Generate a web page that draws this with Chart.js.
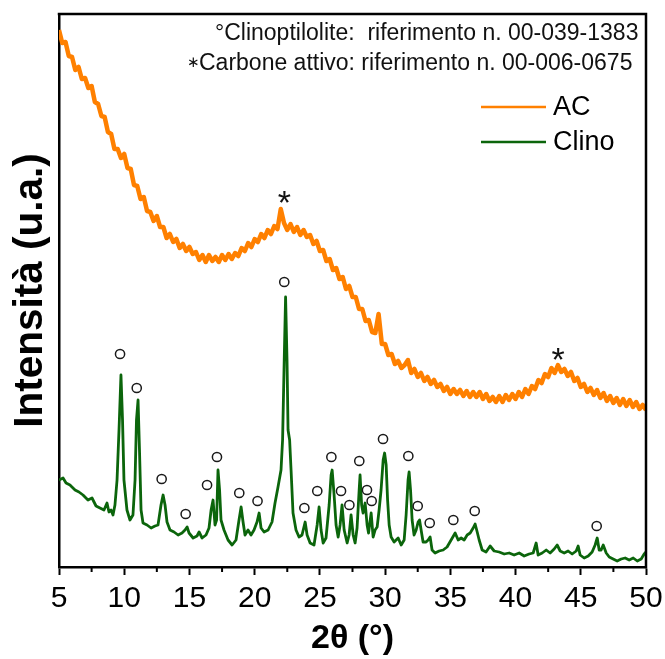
<!DOCTYPE html>
<html>
<head>
<meta charset="utf-8">
<script src="https://cdn.jsdelivr.net/npm/chart.js@4.4.1/dist/chart.umd.min.js"></script>
<style>
  html, body { margin: 0; padding: 0; background: #fff; }
  #wrap { width: 665px; height: 659px; position: relative; }
</style>
</head>
<body>
<div id="wrap"><canvas id="xrdChart"></canvas></div>
<script>
// AC (carbone attivo) pattern, every 0.25°
const acAngles = [
  5, 5.25, 5.5, 5.75, 6, 6.25, 6.5, 6.75, 7, 7.25,
  7.5, 7.75, 8, 8.25, 8.5, 8.75, 9, 9.25, 9.5, 9.75,
  10, 10.25, 10.5, 10.75, 11, 11.25, 11.5, 11.75, 12, 12.25,
  12.5, 12.75, 13, 13.25, 13.5, 13.75, 14, 14.25, 14.5, 14.75,
  15, 15.25, 15.5, 15.75, 16, 16.25, 16.5, 16.75, 17, 17.25,
  17.5, 17.75, 18, 18.25, 18.5, 18.75, 19, 19.25, 19.5, 19.75,
  20, 20.25, 20.5, 20.75, 21, 21.25, 21.5, 21.75, 22, 22.25,
  22.5, 22.75, 23, 23.25, 23.5, 23.75, 24, 24.25, 24.5, 24.75,
  25, 25.25, 25.5, 25.75, 26, 26.25, 26.5, 26.75, 27, 27.25,
  27.5, 27.75, 28, 28.25, 28.5, 28.75, 29, 29.25, 29.5, 29.75,
  30, 30.25, 30.5, 30.75, 31, 31.25, 31.5, 31.75, 32, 32.25,
  32.5, 32.75, 33, 33.25, 33.5, 33.75, 34, 34.25, 34.5, 34.75,
  35, 35.25, 35.5, 35.75, 36, 36.25, 36.5, 36.75, 37, 37.25,
  37.5, 37.75, 38, 38.25, 38.5, 38.75, 39, 39.25, 39.5, 39.75,
  40, 40.25, 40.5, 40.75, 41, 41.25, 41.5, 41.75, 42, 42.25,
  42.5, 42.75, 43, 43.25, 43.5, 43.75, 44, 44.25, 44.5, 44.75,
  45, 45.25, 45.5, 45.75, 46, 46.25, 46.5, 46.75, 47, 47.25,
  47.5, 47.75, 48, 48.25, 48.5, 48.75, 49, 49.25, 49.5, 49.75,
  50,
];
const acIntensity = [
  537, 524, 525, 511, 510, 497, 500, 488, 489, 479,
  481, 465, 463, 451, 450, 435, 433, 418, 418, 409,
  413, 399, 398, 382, 381, 368, 370, 356, 355, 346,
  351, 340, 340, 329, 333, 325, 328, 319, 323, 316,
  320, 313, 315, 307, 312, 305, 312, 306, 310, 305,
  312, 307, 313, 308, 314, 311, 319, 316, 324, 320,
  328, 325, 333, 329, 337, 333, 341, 338, 358, 344,
  337, 343, 335, 340, 332, 337, 330, 332, 323, 326,
  316, 317, 306, 308, 297, 299, 288, 290, 278, 281,
  270, 270, 258, 258, 246, 247, 235, 234, 253, 223,
  223, 212, 213, 203, 206, 199, 202, 207, 194, 198,
  190, 194, 186, 190, 183, 187, 180, 183, 176, 180,
  173, 178, 173, 177, 171, 176, 170, 175, 170, 175,
  168, 173, 166, 170, 165, 171, 165, 172, 167, 173,
  168, 175, 170, 178, 173, 181, 178, 187, 184, 193,
  190, 199, 194, 202, 195, 198, 191, 195, 186, 189,
  180, 183, 175, 179, 172, 177, 169, 174, 166, 171,
  164, 169, 162, 168, 161, 167, 160, 165, 158, 162,
  157,
];

// Clinoptilolite pattern, denser where the reflections are
const clinoAngles = [
  5.0, 5.31, 5.54, 5.84, 6.23, 6.53, 6.84, 7.22, 7.53, 7.84,
  8.14, 8.45, 8.68, 8.83, 8.99, 9.14, 9.29, 9.45, 9.6, 9.75,
  9.87, 9.98, 10.21, 10.44, 10.67, 10.83, 10.94, 11.06, 11.17, 11.29,
  11.44, 11.75, 12.06, 12.36, 12.59, 12.82, 12.98, 13.13, 13.28, 13.51,
  13.82, 14.13, 14.43, 14.66, 14.82, 14.97, 15.28, 15.58, 15.74, 15.97,
  16.27, 16.5, 16.66, 16.81, 16.96, 17.08, 17.19, 17.31, 17.42, 17.65,
  17.96, 18.27, 18.57, 18.8, 18.96, 19.11, 19.26, 19.49, 19.72, 19.95,
  20.18, 20.34, 20.49, 20.72, 21.03, 21.33, 21.56, 21.79, 22.02, 22.14,
  22.25, 22.37, 22.48, 22.56, 22.68, 22.79, 22.94, 23.17, 23.4, 23.63,
  23.87, 24.02, 24.25, 24.55, 24.79, 24.94, 25.09, 25.25, 25.47, 25.71,
  25.86, 25.94, 26.09, 26.24, 26.4, 26.55, 26.7, 26.86, 27.09, 27.24,
  27.39, 27.55, 27.7, 27.85, 28.01, 28.08, 28.2, 28.31, 28.47, 28.62,
  28.73, 28.93, 29.08, 29.23, 29.39, 29.54, 29.69, 29.85, 29.96, 30.08,
  30.19, 30.31, 30.46, 30.69, 31.0, 31.23, 31.46, 31.61, 31.76, 31.84,
  31.95, 32.07, 32.22, 32.38, 32.53, 32.64, 32.76, 32.91, 33.14, 33.3,
  33.45, 33.6, 33.83, 34.14, 34.45, 34.75, 35.06, 35.37, 35.6, 35.83,
  36.06, 36.29, 36.52, 36.75, 36.9, 37.06, 37.21, 37.44, 37.74, 38.05,
  38.36, 38.74, 39.13, 39.51, 39.89, 40.28, 40.66, 41.04, 41.35, 41.58,
  41.73, 42.04, 42.35, 42.65, 42.96, 43.19, 43.42, 43.73, 44.03, 44.34,
  44.65, 44.8, 44.95, 45.26, 45.57, 45.87, 46.1, 46.26, 46.41, 46.56,
  46.72, 46.95, 47.18, 47.48, 47.79, 48.1, 48.4, 48.71, 49.02, 49.33,
  49.63, 49.86, 50.0,
];
const clinoIntensity = [
  87, 89, 84, 82, 77, 75, 72, 67, 69, 61,
  59, 57, 64, 55, 57, 52, 62, 87, 137, 192,
  147, 87, 57, 47, 52, 87, 147, 167, 117, 57,
  44, 42, 39, 41, 42, 62, 72, 62, 45, 37,
  35, 32, 34, 37, 40, 34, 29, 31, 35, 29,
  32, 39, 57, 67, 42, 47, 97, 77, 47, 37,
  27, 22, 27, 47, 60, 45, 32, 37, 32, 37,
  45, 54, 39, 35, 37, 45, 64, 80, 97, 127,
  197, 270, 207, 137, 127, 97, 54, 37, 30, 32,
  45, 32, 24, 22, 42, 60, 37, 24, 29, 62,
  92, 97, 72, 42, 30, 42, 62, 37, 24, 32,
  52, 32, 24, 39, 77, 92, 62, 54, 64, 42,
  34, 54, 30, 37, 40, 57, 77, 107, 114, 102,
  67, 42, 30, 25, 29, 22, 27, 52, 87, 95,
  77, 47, 32, 37, 45, 47, 37, 25, 25, 27,
  30, 17, 14, 16, 17, 20, 27, 34, 27, 29,
  27, 32, 34, 39, 43, 35, 27, 17, 15, 21,
  16, 15, 13, 14, 12, 14, 11, 13, 14, 24,
  12, 14, 17, 14, 18, 22, 16, 14, 16, 13,
  16, 21, 12, 9, 11, 15, 22, 29, 17, 17,
  22, 14, 10, 8, 6, 8, 9, 7, 9, 6,
  8, 13, 15,
];

// reflection markers: ° clinoptilolite, * carbone attivo
const clinoMarkAngles = [9.68, 10.96, 12.87, 14.71, 16.35, 17.11, 18.82, 20.22, 22.27, 23.81, 24.8, 25.88,
  26.62, 27.26, 28.02, 28.61, 28.97, 29.84, 31.78, 32.5, 33.42, 35.23, 36.87, 46.22];
const clinoMarkLevels = [213, 179, 88, 53, 82, 110, 74, 66, 285, 59, 76, 110,
  76, 62, 106, 77, 66, 128, 111, 61, 44, 47, 56, 41];
const acStarAngles = [22.27, 43.27];
const acStarLevels = [372, 215];

const xMajorTicks = [5, 10, 15, 20, 25, 30, 35, 40, 45, 50];
const xMinorTicks = [7.5, 12.5, 17.5, 22.5, 27.5, 32.5, 37.5, 42.5, 47.5];
const noteMarks = ['°', '∗'];
const noteTexts = [
  'Clinoptilolite:  riferimento n. 00-039-1383',
  'Carbone attivo: riferimento n. 00-006-0675',
];

const COLORS = {
  ac: '#ff8000',
  clino: '#0b650b',
  ink: '#000000',
};
const FONT = '"Liberation Sans", Arial, sans-serif';

Chart.defaults.font.family = FONT;
Chart.defaults.color = COLORS.ink;

function toPoints(xs, ys) {
  return xs.map((x, i) => ({ x, y: ys[i] }));
}

const xrdDecor = {
  id: 'xrdDecor',
  afterDraw(chart) {
    const { ctx, chartArea: area, scales: { x, y } } = chart;
    ctx.save();

    // rest of the frame
    ctx.strokeStyle = COLORS.ink;
    ctx.lineWidth = 2.5;
    ctx.beginPath();
    ctx.moveTo(area.left - 1.25, area.top);
    ctx.lineTo(area.right, area.top);
    ctx.lineTo(area.right, area.bottom + 1.25);
    ctx.stroke();

    // minor ticks
    ctx.lineWidth = 2;
    xMinorTicks.forEach((v) => {
      const px = x.getPixelForValue(v);
      ctx.beginPath();
      ctx.moveTo(px, area.bottom);
      ctx.lineTo(px, area.bottom + 5);
      ctx.stroke();
    });

    // carbon reflections
    ctx.fillStyle = '#111';
    ctx.font = `34px ${FONT}`;
    ctx.textAlign = 'center';
    ctx.textBaseline = 'alphabetic';
    acStarAngles.forEach((a, i) => {
      ctx.fillText('*', x.getPixelForValue(a), y.getPixelForValue(acStarLevels[i]) + 19);
    });

    // reference cards
    ctx.textAlign = 'left';
    ctx.font = `23px ${FONT}`;
    ctx.fillText(noteMarks[0] + noteTexts[0], area.right - 431, area.top + 26);
    ctx.fillText(noteTexts[1], area.right - 447, area.top + 56);
    ctx.font = `15px "DejaVu Sans", ${FONT}`;
    ctx.textBaseline = 'middle';
    ctx.fillText(noteMarks[1], area.right - 459, area.top + 49);

    // legend
    ctx.font = `27px ${FONT}`;
    chart.data.datasets.slice(0, 2).forEach((ds, i) => {
      const ly = area.top + 93 + i * 35;
      ctx.strokeStyle = ds.borderColor;
      ctx.lineWidth = 2.5;
      ctx.beginPath();
      ctx.moveTo(area.right - 165, ly);
      ctx.lineTo(area.right - 100, ly);
      ctx.stroke();
      ctx.fillStyle = COLORS.ink;
      ctx.fillText(ds.label, area.right - 93, ly + 1);
    });

    ctx.restore();
  },
};

new Chart(document.getElementById('xrdChart'), {
  type: 'line',
  data: {
    datasets: [
      {
        label: 'AC',
        data: toPoints(acAngles, acIntensity),
        borderColor: COLORS.ac,
        borderWidth: 4.5,
        borderJoinStyle: 'round',
        pointRadius: 0,
        tension: 0,
        order: 2,
      },
      {
        label: 'Clino',
        data: toPoints(clinoAngles, clinoIntensity),
        borderColor: COLORS.clino,
        borderWidth: 2.8,
        borderJoinStyle: 'round',
        pointRadius: 0,
        tension: 0,
        order: 1,
      },
      {
        label: 'riflessi',
        data: toPoints(clinoMarkAngles, clinoMarkLevels),
        showLine: false,
        pointRadius: 4.6,
        pointBorderWidth: 1.5,
        pointBorderColor: '#1a1a1a',
        pointBackgroundColor: '#ffffff',
        order: 0,
      },
    ],
  },
  options: {
    responsive: true,
    maintainAspectRatio: false,
    animation: false,
    layout: { padding: { top: 14, right: 19, left: 0, bottom: 0 } },
    plugins: {
      legend: { display: false },
      tooltip: { enabled: false },
    },
    scales: {
      x: {
        type: 'linear',
        min: 5,
        max: 50,
        afterFit: (scale) => {
          scale.height = 92;
          scale.paddingLeft = 0;
          scale.paddingRight = 0;
        },
        afterBuildTicks: (scale) => { scale.ticks = xMajorTicks.map((value) => ({ value })); },
        ticks: { color: COLORS.ink, font: { size: 30 }, padding: 6, maxRotation: 0 },
        grid: { drawOnChartArea: false, tickLength: 8, tickWidth: 2, tickColor: COLORS.ink },
        border: { display: true, width: 2.5, color: COLORS.ink },
        title: {
          display: true,
          text: '2θ (°)',
          color: COLORS.ink,
          font: { size: 34, weight: 'bold' },
          padding: { top: 0, bottom: 0 },
        },
      },
      y: {
        type: 'linear',
        min: 0,
        max: 553,
        afterFit: (scale) => { scale.width = 59; },
        ticks: { display: false },
        grid: { drawOnChartArea: false, drawTicks: false },
        border: { display: true, width: 2.5, color: COLORS.ink },
        title: {
          display: true,
          text: 'Intensità (u.a.)',
          color: COLORS.ink,
          font: { size: 40.5, weight: 'bold' },
          padding: { top: 7, bottom: 0 },
        },
      },
    },
  },
  plugins: [xrdDecor],
});
</script>
</body>
</html>
